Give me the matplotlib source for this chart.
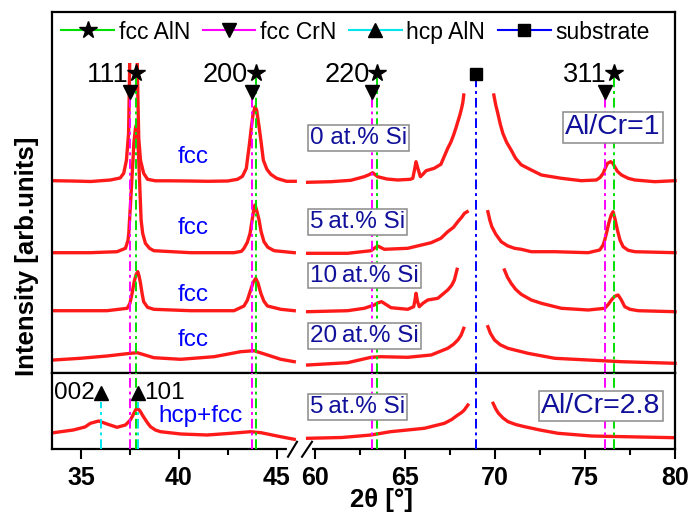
import numpy as np
import matplotlib
matplotlib.use("Agg")
import matplotlib.pyplot as plt
from matplotlib.lines import Line2D
from matplotlib.patches import Rectangle

plt.rcParams['font.family'] = ['Liberation Sans', 'DejaVu Sans']

nan = np.nan
# ---------------- data (2theta in degrees, intensity in arb. units) ----------------
si0_x = [33.6, 34.5, 35.5, 36.5, 37.0, 37.18, 37.32, 37.43, 37.48, 37.55, 37.68, 37.8, 37.88, 37.95, 38.04, 38.2,
         38.4, 38.8, 39.5, 40.5, 41.5, 42.5, 43.0, 43.25, 43.45, 43.5, 43.6, 43.71, 43.8, 43.9, 43.98, 44.1,
         44.2, 44.32, 44.5, 44.7, 45.0, 45.5, 45.95, nan,
         59.6, 60.9, 62.0, 62.74, 63.0, 63.21, 63.49, 64.0, 64.6, 65.3, 65.44, 65.53, 65.62, 65.72, 65.86,
         66.0, 66.18, 66.63, 67.0, 67.38, 67.55, 67.7, 67.83, 67.94, 68.05, 68.15, 68.22, 68.27, nan,
         69.94, 70.05, 70.16, 70.3, 70.44, 70.65, 70.9, 71.15, 71.46, 72.02, 72.58, 73.69, 74.8, 75.64,
         75.85, 76.01, 76.15, 76.25, 76.43, 76.55, 76.65, 76.8, 77.03, 77.4, 77.77, 78.88, 80.0]
si0_y = [192.6, 192.3, 191.8, 193.3, 195.3, 200, 213, 240, 300, 420, 520, 420, 300, 235, 213, 200,
         194, 192.5, 192.5, 192.3, 192, 192.3, 194, 197, 205, 213, 228, 246.6, 260, 266.6, 263, 246.6,
         232, 213, 204, 199, 195, 192, 192, nan,
         191, 191.6, 193, 196.6, 198.5, 200.6, 196.6, 194.3, 193.3, 194, 195, 203, 211.6, 205, 196.6,
         199, 202.6, 205, 209, 225, 231, 238, 245, 251.6, 258, 265, 271, 278.3, nan,
         278.3, 268, 260, 249, 240, 231, 223.3, 215, 208.5, 203.3, 198.3, 195, 192.6, 193.3,
         196, 200, 206, 210, 211.6, 210, 206.6, 202, 198.3, 195, 193.3, 191.6, 192.6]

si5_x = [33.6, 35.48, 36.84, 37.27, 37.4, 37.44, 37.56, 37.7, 37.78, 37.83, 37.9, 37.95, 38.07, 38.15,
         38.29, 38.5, 38.72, 40.6, 42.82, 43.2, 43.33, 43.5, 43.64, 43.76, 43.85, 43.89, 43.95, 44.1, 44.2,
         44.35, 44.55, 44.87, 45.9, nan,
         59.6, 61.82, 63.12, 63.3, 63.49, 63.86, 65.16, 66.46, 67.0, 67.38, 67.7, 67.94, 68.15, 68.31,
         68.46, nan,
         69.61, 69.72, 69.83, 70.05, 70.35, 70.7, 71.09, 71.46, 72.02, 73.32, 75.18, 75.82, 76.0, 76.1,
         76.22, 76.32, 76.45, 76.56, 76.66, 76.8, 76.95, 77.12, 77.4, 77.77, 80.0]
si5_y = [120.6, 120.6, 121.6, 125, 133, 140, 180, 230, 245, 248.3, 235, 213.3, 153.3, 140,
         130, 125, 122.6, 120.6, 120.6, 122, 125, 131, 140, 155, 166, 168.3, 165, 153.3, 142,
         131.6, 126, 122.6, 120.6, nan,
         120, 120, 122.6, 125, 127.3, 124, 125, 130.6, 135, 141.6, 146, 151.6, 156, 160, 161.6, nan,
         161.6, 153, 146.6, 139, 131.6, 127.5, 125, 124, 121.6, 121.6, 120.6, 123.3, 128, 133.3,
         142, 150, 158, 161.6, 155, 143.3, 133, 126.6, 123, 121.6, 120.6]

si10_x = [33.6, 36.33, 37.36, 37.5, 37.61, 37.72, 37.82, 37.9, 37.97, 38.04, 38.12, 38.2, 38.4, 38.72,
          40.6, 42.82, 43.33, 43.5, 43.67, 43.8, 43.93, 44.05, 44.19, 44.35, 44.53, 45.21, 45.9, nan,
          59.6, 61.82, 62.74, 63.3, 63.5, 63.71, 64.23, 65.16, 65.49, 65.56, 65.62, 65.7, 65.8, 66.0,
          66.27, 66.83, 67.38, 67.6, 67.75, 67.9, nan,
          70.53, 70.7, 70.9, 71.15, 71.46, 72.02, 72.58, 73.69, 75.18, 76.1, 76.3, 76.47, 76.65, 76.84,
          77.0, 77.21, 77.5, 77.95, 80.0]
si10_y = [62.6, 62.6, 65, 70, 80, 92, 99, 101.6, 97, 90, 80, 71.6, 66, 64,
          62.6, 62.6, 67.3, 73, 83.3, 91, 95, 90, 80, 72, 67.3, 64, 62.6, nan,
          61.6, 62.6, 65, 68.3, 70.5, 71.6, 65.6, 64, 66.6, 73, 80, 72, 66.6, 70,
          73.3, 75, 83.3, 88, 93.3, 104, nan,
          103.3, 96, 90, 84, 79, 73.3, 70, 65, 63.3, 65, 69, 73.3, 77, 78.3,
          74, 66.6, 64, 62.6, 61.6]

si20_x = [33.6, 34.96, 36.33, 37.53, 37.87, 38.72, 40.09, 41.8, 43.16, 43.84, 44.53, 45.21, 45.9, nan,
          59.6, 61.82, 63.12, 63.67, 65.16, 66.46, 67.38, 67.7, 67.94, 68.12, 68.27, nan,
          69.61, 69.75, 69.98, 70.3, 70.72, 71.83, 73.32, 75.18, 77.03, 80.0]
si20_y = [13.3, 15, 17.3, 20, 20.6, 15.6, 14, 16.6, 21.6, 22.6, 18.3, 14, 11.6, nan,
          8.3, 10.6, 16, 16.6, 16, 18.3, 25, 29, 33.3, 38, 45, nan,
          46.6, 40, 33.3, 28.5, 25, 20, 15, 13.3, 11.6, 10]

alcr28_x = [33.6, 34.6, 35.2, 35.48, 35.9, 36.33, 36.84, 37.27, 37.52, 37.62, 37.7, 37.8, 37.87, 37.95,
            38.04, 38.15, 38.3, 38.42, 38.55, 38.8, 39.06, 40.1, 41.45, 42.65, 43.67, 44.2, 45.2, 45.9, nan,
            59.6, 61.5, 63.12, 64.2, 66.08, 67.2, 67.6, 67.94, 68.15, 68.3, 68.5, nan,
            69.9, 70.05, 70.2, 70.45, 70.73, 71.15, 71.65, 72.5, 73.5, 75.36, 77.2, 80.0]
alcr28_y = [16.3, 19, 22, 25.7, 28, 25, 21.7, 24, 29, 32.5, 35.7, 39.5, 40.7, 39.5,
            37.3, 33.5, 29, 25.5, 22.3, 19, 17.3, 15, 14, 15.7, 17.3, 16.3, 12.3, 9.7, nan,
            10.7, 11.5, 14, 17.3, 20.7, 25.7, 29.5, 34, 36.5, 39, 44, nan,
            45.7, 40, 35.7, 31, 27.3, 24.5, 22.3, 19, 15.7, 13, 12.3, 11.3]

upper_traces = [(si0_x, si0_y), (si5_x, si5_y), (si10_x, si10_y), (si20_x, si20_y)]
si_labels = ["0 at.% Si", "5\u2009at.% Si", "10\u2009at.% Si", "20\u2009at.% Si"]
phase_labels = ["fcc", "fcc", "fcc", "fcc"]

# reference peak positions
fcc_aln_pos = [37.82, 43.92, 63.47, 76.63]
fcc_crn_pos = [37.52, 43.75, 63.18, 76.1]
hkl_labels = ["111", "200", "220", "311"]
hcp_aln_pos = [36.04, 37.92]
hcp_labels = ["002", "101"]
substrate_pos = [68.93]

# ---------------- broken x scale ----------------
B1, B2, G, R = 46.0, 59.0, 0.03, 17.97 / 19.52


def fwd(x):
    x = np.asarray(x, dtype=float)
    return np.where(x <= B1, x,
                    np.where(x >= B2, B1 + G + (x - B2) * R, B1 + (x - B1) * G / (B2 - B1)))


def inv(u):
    u = np.asarray(u, dtype=float)
    return np.where(u <= B1, u,
                    np.where(u >= B1 + G, B2 + (u - B1 - G) / R, B1 + (u - B1) * (B2 - B1) / G))


fig = plt.figure(figsize=(6.89, 5.13), dpi=100)
L, W = 51.7 / 689, (675 - 51.7) / 689
ax = fig.add_axes([L, 1 - 373.3 / 513, W, 361 / 513])
ax2 = fig.add_axes([L, 1 - 449 / 513, W, 75.7 / 513], sharex=ax)

for a in (ax, ax2):
    a.set_xscale('function', functions=(fwd, inv))
    for s in a.spines.values():
        s.set_linewidth(1.6)
    a.set_yticks([])
ax.set_xlim(33.5, 80)
ax.set_ylim(0, 361)
ax2.set_ylim(0, 75.7)

RED = '#ff1a1a'
GREEN = '#00e000'
MAG = '#ff00ff'
CYAN = '#00e5ee'
BLUE = '#0000ff'
NAVY = '#10109a'
dash = (0, (5, 2, 1.5, 2))

clip = Rectangle((30, -10), 60, 320, transform=ax.transData)
for xs, ys in upper_traces:
    ln, = ax.plot(xs, ys, color=RED, lw=2.4, zorder=2, solid_joinstyle='round')
    ln.set_clip_path(clip)
ax2.plot(alcr28_x, alcr28_y, color=RED, lw=2.4, zorder=2, solid_joinstyle='round')

# reference lines
STAR_Y, TRI_Y = 300, 281.6
for p in fcc_aln_pos:
    ax.plot([p, p], [0, STAR_Y], color=GREEN, lw=1.4, ls=dash, zorder=3)
    ax2.plot([p, p], [0, 75.7], color=GREEN, lw=1.4, ls=dash, zorder=3)
for p in fcc_crn_pos:
    ax.plot([p, p], [0, TRI_Y], color=MAG, lw=1.4, ls=dash, zorder=3)
    ax2.plot([p, p], [0, 75.7], color=MAG, lw=1.4, ls=dash, zorder=3)
for p in substrate_pos:
    ax.plot([p, p], [0, 299], color=BLUE, lw=1.4, ls=dash, zorder=3)
    ax2.plot([p, p], [0, 75.7], color=BLUE, lw=1.4, ls=dash, zorder=3)
for p in hcp_aln_pos:
    ax2.plot([p, p], [0, 47.3], color=CYAN, lw=1.4, ls=dash, zorder=3)

ax.plot(fcc_aln_pos, [STAR_Y] * 4, ls='none', marker='*', ms=13, color='black', zorder=6)
ax.plot(fcc_crn_pos, [TRI_Y] * 4, ls='none', marker='v', ms=10, color='black', zorder=6)
ax.plot(substrate_pos, [299], ls='none', marker='s', ms=9, color='black', zorder=6)
for p, t in zip(fcc_aln_pos, hkl_labels):
    ax.annotate(t, (p, 298), xytext=(-5.5, 0), textcoords='offset points', ha='right', va='center',
                fontsize=19.5, zorder=6)

ax2.plot(hcp_aln_pos, [56.3] * 2, ls='none', marker='^', ms=10, color='black', zorder=6)
ax2.annotate(hcp_labels[0], (hcp_aln_pos[0], 56.3), xytext=(-5, 0), textcoords='offset points',
             ha='right', va='center', fontsize=17.5)
ax2.annotate(hcp_labels[1], (hcp_aln_pos[1], 56.3), xytext=(4.5, 0), textcoords='offset points',
             ha='left', va='center', fontsize=17.5)

# text labels
box = dict(boxstyle='square,pad=0.08', fc='white', ec='#8a8a8a', lw=1.1)
for yc, t in zip([235, 151.6, 97.8, 37.1], si_labels):
    ax.text(59.75, yc, t, ha='left', va='center', fontsize=17.5, color=NAVY, bbox=box, zorder=7)
for yc, t in zip([216.3, 145.3, 78.3, 33.3], phase_labels):
    ax.text(40.75, yc, t, ha='center', va='center', fontsize=17.5, color=BLUE, zorder=7)
ax.text(79.2, 246, "Al/Cr=1", ha='right', va='center', fontsize=20.5, color=NAVY, bbox=box, zorder=7)
ax2.text(59.75, 42.3, "5\u2009at.% Si", ha='left', va='center', fontsize=17.5, color=NAVY, bbox=box, zorder=7)
ax2.text(79.2, 43, "Al/Cr=2.8", ha='right', va='center', fontsize=20.5, color=NAVY, bbox=box, zorder=7)
ax2.text(41.1, 33.4, "hcp+fcc", ha='center', va='center', fontsize=17.5, color=BLUE, zorder=7)

# legend
handles = [Line2D([], [], color=GREEN, lw=1.5, marker='*', ms=13, mfc='black', mec='black'),
           Line2D([], [], color=MAG, lw=1.5, marker='v', ms=10, mfc='black', mec='black'),
           Line2D([], [], color=CYAN, lw=1.5, marker='^', ms=10, mfc='black', mec='black'),
           Line2D([], [], color=BLUE, lw=1.5, marker='s', ms=9, mfc='black', mec='black')]
ax.legend(handles, ["fcc AlN", "fcc CrN", "hcp AlN", "substrate"], loc='center left',
          bbox_to_anchor=(0.0157, 0.9454), ncol=4, frameon=False, fontsize=16.5, borderpad=0,
          borderaxespad=0, handlelength=2.3, handletextpad=0.2, columnspacing=0.55)

# ticks
major = [35, 40, 45, 60, 65, 70, 75, 80]
minor = [37.5, 42.5, 62.5, 67.5, 72.5, 77.5]
ax2.set_xticks(major)
ax2.set_xticklabels([str(m) for m in major])
ax2.set_xticks(minor, minor=True)
ax2.tick_params(axis='x', which='major', direction='out', length=7, width=1.5, labelsize=18, pad=5)
ax2.tick_params(axis='x', which='minor', direction='out', length=4, width=1.5)
for lab in ax2.get_xticklabels():
    lab.set_fontweight('bold')
ax.tick_params(axis='x', which='both', bottom=False, labelbottom=False)

# axis break marks
tr = ax2.transAxes
ax2.plot([0.381, 0.4146], [0, 0], color='white', lw=3, transform=tr, clip_on=False, zorder=10)
ax2.plot([0.3791, 0.3936], [-0.102, 0.096], color='black', lw=1.5, transform=tr, clip_on=False, zorder=11)
ax2.plot([0.4016, 0.4176], [-0.102, 0.096], color='black', lw=1.5, transform=tr, clip_on=False, zorder=11)

fig.text(382 / 689, 1 - 500 / 513, "2θ [°]", ha='center', va='center', fontsize=18.5, fontweight='bold')
fig.text(27 / 689, 1 - 256 / 513, "Intensity [arb.units]", rotation=90, ha='center', va='center',
         fontsize=18.5, fontweight='bold')

fig.savefig("out.png", dpi=100)
